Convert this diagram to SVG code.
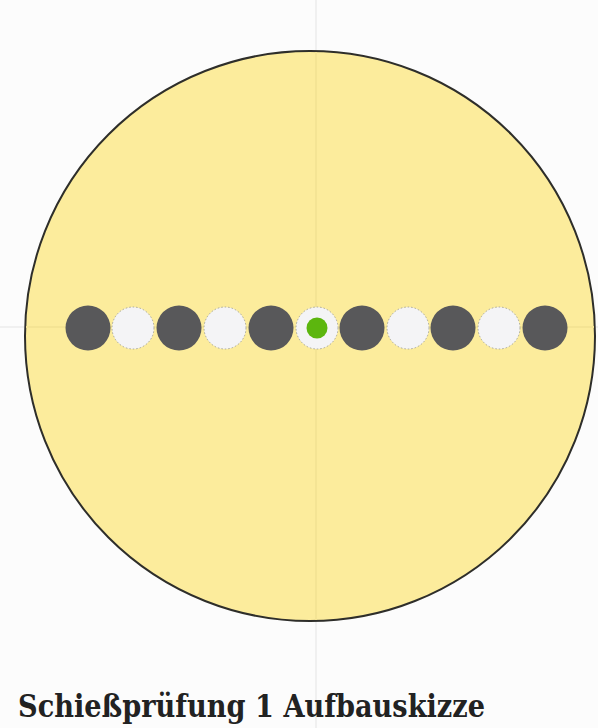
<svg xmlns="http://www.w3.org/2000/svg" width="598" height="728" viewBox="0 0 598 728">
<style>
.guide{stroke:#ececec;stroke-width:1.5;fill:none}
.dark{fill:#58585a}
.light{fill:#f4f4f6;stroke:#a8a8a0;stroke-width:1;stroke-dasharray:1.5 2}
.title{font-family:"DejaVu Serif","Liberation Serif",serif;font-weight:bold;fill:#222}
</style>
<rect width="598" height="728" fill="#fcfcfc"/>
<g id="guides">
<line class="guide" x1="316" y1="0" x2="316" y2="728"/>
<line class="guide" x1="0" y1="327" x2="598" y2="327"/>
</g>
<g id="table">
<circle cx="310" cy="336" r="285" fill="#fcec9c" stroke="#2e2e2a" stroke-width="2"/>
<line x1="316" y1="52" x2="316" y2="620" stroke="#f4e494" stroke-width="2"/>
<line x1="26" y1="327" x2="594" y2="327" stroke="#f4e494" stroke-width="2"/>
</g>
<g id="positions">
<circle class="dark" cx="88" cy="328" r="22.5"/>
<circle class="light" cx="133" cy="328" r="21"/>
<circle class="dark" cx="179" cy="328" r="22.5"/>
<circle class="light" cx="225" cy="328" r="21"/>
<circle class="dark" cx="271" cy="328" r="22.5"/>
<circle class="light" cx="317" cy="328" r="21"/>
<circle class="dark" cx="362" cy="328" r="22.5"/>
<circle class="light" cx="408" cy="328" r="21"/>
<circle class="dark" cx="453" cy="328" r="22.5"/>
<circle class="light" cx="499" cy="328" r="21"/>
<circle class="dark" cx="545" cy="328" r="22.5"/>
</g>
<g id="center">
<circle cx="317" cy="328" r="10.5" fill="#5cb60e"/>
</g>
<g id="caption">
<text class="title" x="18" y="717" font-size="31" textLength="467" lengthAdjust="spacingAndGlyphs">Schießprüfung 1 Aufbauskizze</text>
</g>
</svg>
